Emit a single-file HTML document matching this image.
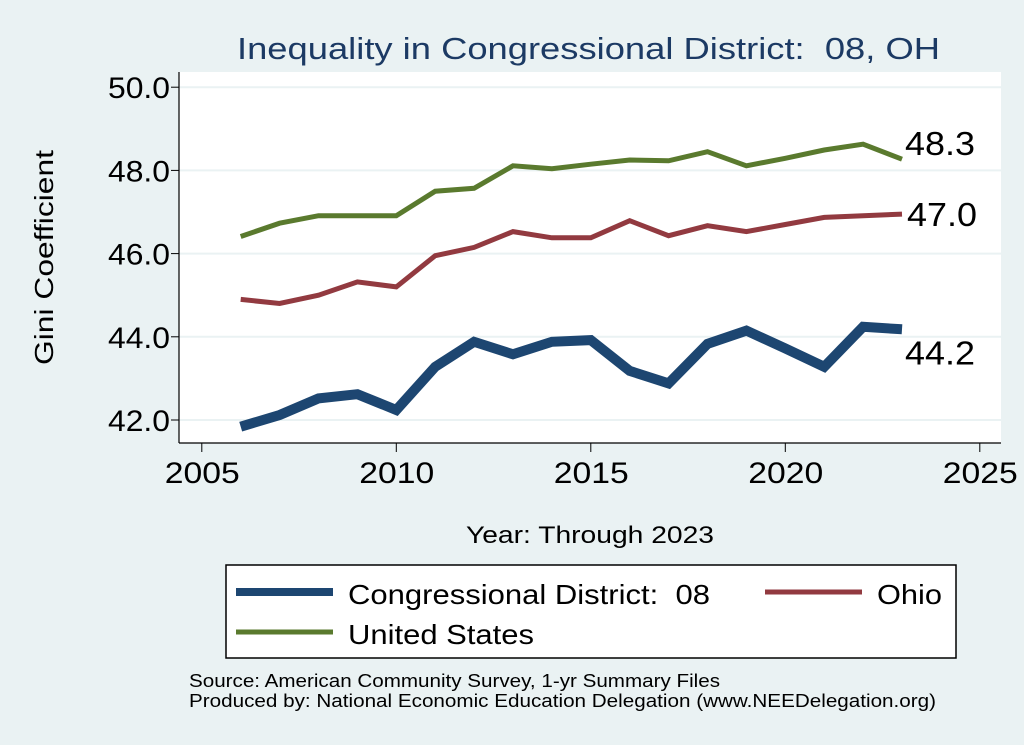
<!DOCTYPE html>
<html><head><meta charset="utf-8">
<style>
html,body{margin:0;padding:0;background:#eaf2f3;}
svg{display:block;font-family:"Liberation Sans",sans-serif;}
text{white-space:pre;}
</style></head>
<body>
<svg id="chart" width="1024" height="745" viewBox="0 0 1024 745" xmlns="http://www.w3.org/2000/svg" xml:space="preserve">
<rect x="0" y="0" width="1024" height="745" fill="#eaf2f3"/>
<text x="237" y="59" font-size="31" fill="#1c3a64" textLength="703" lengthAdjust="spacingAndGlyphs">Inequality in Congressional District:  08, OH</text>
<rect x="179" y="72" width="822" height="371" fill="#ffffff"/>
<g id="grid"></g>
<g id="axes"></g>
<g id="series"></g>
<text transform="translate(53,365) rotate(-90)" font-size="26" textLength="215" lengthAdjust="spacingAndGlyphs" fill="#000">Gini Coefficient</text>
<text x="466" y="543" font-size="24" textLength="248" lengthAdjust="spacingAndGlyphs" fill="#000">Year: Through 2023</text>
<g>
<rect x="226" y="565" width="730" height="93" fill="#fff" stroke="#000" stroke-width="1.5"/>
<line x1="236" y1="592" x2="333" y2="592" stroke="#1d4671" stroke-width="8"/>
<text x="348" y="604" font-size="28" textLength="362" lengthAdjust="spacingAndGlyphs">Congressional District:  08</text>
<line x1="765" y1="592" x2="862" y2="592" stroke="#923a40" stroke-width="5"/>
<text x="877" y="604" font-size="28" textLength="65" lengthAdjust="spacingAndGlyphs">Ohio</text>
<line x1="236" y1="632" x2="333" y2="632" stroke="#5a7a2e" stroke-width="5"/>
<text x="348" y="644" font-size="28" textLength="186" lengthAdjust="spacingAndGlyphs">United States</text>
</g>
<text x="189" y="687" font-size="18" textLength="531" lengthAdjust="spacingAndGlyphs">Source: American Community Survey, 1-yr Summary Files</text>
<text x="189" y="707" font-size="18" textLength="747" lengthAdjust="spacingAndGlyphs">Produced by: National Economic Education Delegation (www.NEEDelegation.org)</text>
</svg>
<script>
const years = [2006,2007,2008,2009,2010,2011,2012,2013,2014,2015,2016,2017,2018,2019,2020,2021,2022,2023];
const usValues = [46.41,46.73,46.91,46.91,46.91,47.50,47.57,48.11,48.04,48.15,48.25,48.23,48.45,48.11,48.29,48.49,48.63,48.27];
const ohioValues = [44.90,44.80,45.00,45.32,45.20,45.95,46.15,46.53,46.38,46.38,46.79,46.43,46.67,46.53,46.70,46.87,46.91,46.95];
const districtValues = [41.84,42.12,42.52,42.62,42.24,43.28,43.88,43.58,43.88,43.92,43.18,42.88,43.83,44.15,43.72,43.28,44.24,44.18];
const yTicks = [42,44,46,48,50];
const yTickLabels = ["42.0","44.0","46.0","48.0","50.0"];
const xTicks = [2005,2010,2015,2020,2025];
const endLabels = ["48.3","47.0","44.2"];

const NS="http://www.w3.org/2000/svg";
function xs(v){return 201.8+(v-2005)*38.9;}
function ys(v){return 420-(v-42)*41.6;}
function mk(tag,attrs,parent){const e=document.createElementNS(NS,tag);for(const k in attrs)e.setAttribute(k,attrs[k]);parent.appendChild(e);return e;}
const grid=document.getElementById('grid'),axes=document.getElementById('axes'),ser=document.getElementById('series');

yTicks.forEach((t,i)=>{
  const g=mk('line',{x1:179,x2:1001,y1:ys(t),y2:ys(t),stroke:'#eaf2f3','stroke-width':2},grid);
  
  
  const tk=mk('line',{x1:171,x2:179,y1:ys(t),y2:ys(t),stroke:'#000','stroke-width':1},axes);
  
  
  const lb=mk('text',{x:108,y:ys(t)+11,'font-size':30,textLength:62,lengthAdjust:'spacingAndGlyphs'},axes);
  lb.textContent=yTickLabels[i];
  
  
});
const ya=mk('line',{x1:179,x2:179,y1:72,y2:443,stroke:'#000','stroke-width':1.2},axes);


const xa=mk('line',{x1:179,x2:1001,y1:443,y2:443,stroke:'#000','stroke-width':1.2},axes);


xTicks.forEach(t=>{
  const tk=mk('line',{x1:xs(t),x2:xs(t),y1:443,y2:452,stroke:'#000','stroke-width':1},axes);
  
  
  const lb=mk('text',{x:xs(t)-37,y:483,'font-size':30,textLength:75,lengthAdjust:'spacingAndGlyphs'},axes);
  lb.textContent=String(t);
  
  
});
function line(vals,color,w,name){
  const pts=vals.map((v,i)=>xs(years[i]).toFixed(1)+','+ys(v).toFixed(1)).join(' ');
  const p=mk('polyline',{points:pts,fill:'none',stroke:color,'stroke-width':w,'stroke-linejoin':'miter'},ser);
  
  
}
line(districtValues,'#1d4671',10,'line-district');
line(ohioValues,'#923a40',5,'line-ohio');
line(usValues,'#5a7a2e',5,'line-us');
const lastX=xs(years[years.length-1]);
const l1=mk('text',{x:lastX+3,y:ys(usValues[usValues.length-1])-4,'font-size':33,textLength:70,lengthAdjust:'spacingAndGlyphs'},ser);
l1.textContent=endLabels[0];


const l2=mk('text',{x:lastX+5,y:ys(ohioValues[ohioValues.length-1])+12,'font-size':33,textLength:70,lengthAdjust:'spacingAndGlyphs'},ser);
l2.textContent=endLabels[1];


const l3=mk('text',{x:lastX+3,y:ys(districtValues[districtValues.length-1])+35,'font-size':33,textLength:70,lengthAdjust:'spacingAndGlyphs'},ser);
l3.textContent=endLabels[2];


</script>
</body></html>
